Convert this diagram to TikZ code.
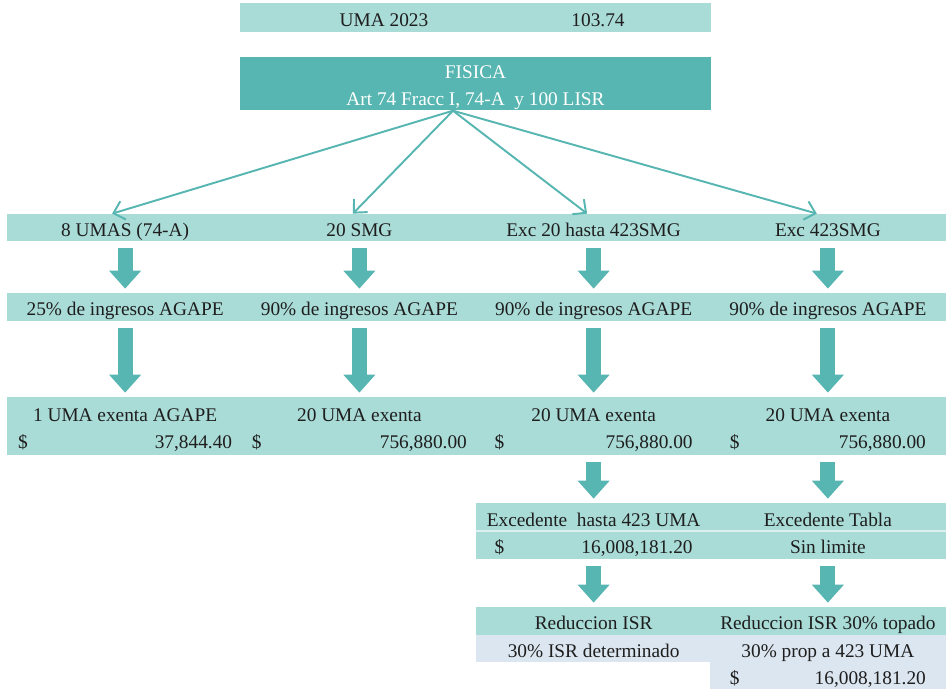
\documentclass[tikz,border=0pt]{standalone}
\usepackage{fontspec}
\setmainfont{Liberation Serif}
\usepackage{tikz}
\usepackage{xcolor}
\usetikzlibrary{arrows.meta,positioning,calc}

\definecolor{tealLight}{HTML}{A9DBD7}
\definecolor{tealDark}{HTML}{57B6B1}
\definecolor{greyBlue}{HTML}{DCE6F0}
\definecolor{inkText}{HTML}{1E1E1E}

% amount line: dollar sign left, figure right
\newcommand{\monto}[2]{\makebox[#1]{\$\hfill #2}}
% struts for two line cells
\newcommand{\topline}{\rule{0pt}{0.44cm}}
\newcommand{\lowline}{\rule[-0.09cm]{0pt}{0.09cm}}

\begin{document}
\begin{tikzpicture}[x=0.02cm, y=-0.02cm,
    cell/.style={fill=tealLight, inner sep=0pt, minimum width=4.72cm, minimum height=0.54cm,
                 align=center, text=inkText, font=\fontsize{11}{15.5}\selectfont,
                 text height=0.36cm, text depth=0cm},
    tallcell/.style={cell, minimum height=1.16cm, text height=, text depth=},
    greycell/.style={cell, fill=greyBlue, minimum height=0.55cm},
    headcell/.style={tallcell, fill=tealDark, text=white, minimum width=9.42cm, minimum height=1.06cm},
    plaintext/.style={text=inkText, font=\fontsize{11}{15.5}\selectfont, text height=0.36cm, text depth=0cm},
    thinarrow/.style={draw=tealDark, line width=1.1pt, -{Straight Barb[length=0.2cm, width=0.38cm]}},
    blockarrow/.style={draw=tealDark, line width=0.3cm, -{Triangle[length=0.36cm, width=0.62cm]},
                       shorten <=0.14cm, shorten >=0.08cm}]
    \useasboundingbox (0,0) rectangle (947,689);

    % UMA
    \node[cell, minimum width=9.42cm, minimum height=0.58cm] (uma) at (475.5,17.5) {};
    \node[plaintext] (umalbl) at (384,17.5) {UMA 2023};
    \node[plaintext] (umaval) at (598,17.5) {103.74};

    % Persona fisica
    \node[headcell] (fisica) at (475.5,83.5) {\topline FISICA\\Art 74 Fracc I, 74-A\ \ y 100 LISR\lowline};

    % Row 1
    \node[cell] (r1a) at (125.125,227.5) {8 UMAS (74-A)};
    \node[cell] (r1b) at (359.375,227.5) {20 SMG};
    \node[cell] (r1c) at (593.625,227.5) {Exc 20 hasta 423SMG};
    \node[cell] (r1d) at (827.875,227.5) {Exc 423SMG};

    \draw[thinarrow] ([xshift=-0.45cm]fisica.south) -- ([xshift=-0.26cm]r1a.north);
    \draw[thinarrow] ([xshift=-0.45cm]fisica.south) -- ([xshift=-0.13cm]r1b.north);
    \draw[thinarrow] ([xshift=-0.45cm]fisica.south) -- ([xshift=-0.13cm]r1c.north);
    \draw[thinarrow] ([xshift=-0.45cm]fisica.south) -- ([xshift=-0.22cm]r1d.north);

    % Row 2
    \node[cell, minimum height=0.56cm] (r2a) at (125.125,307) {25\% de ingresos AGAPE};
    \node[cell, minimum height=0.56cm] (r2b) at (359.375,307) {90\% de ingresos AGAPE};
    \node[cell, minimum height=0.56cm] (r2c) at (593.625,307) {90\% de ingresos AGAPE};
    \node[cell, minimum height=0.56cm] (r2d) at (827.875,307) {90\% de ingresos AGAPE};

    % Row 3
    \node[tallcell] (r3a) at (125.125,426) {\topline 1 UMA exenta AGAPE\\\monto{4.28cm}{37,844.40}\lowline};
    \node[tallcell] (r3b) at (359.375,426) {\topline 20 UMA exenta\\\monto{4.3cm}{756,880.00}\lowline};
    \node[tallcell] (r3c) at (593.625,426) {\topline 20 UMA exenta\\\monto{3.96cm}{756,880.00}\lowline};
    \node[tallcell] (r3d) at (827.875,426) {\topline 20 UMA exenta\\\monto{3.92cm}{756,880.00}\lowline};

    \foreach \c in {a,b,c,d} {
        \draw[blockarrow] (r1\c.south) -- (r2\c.north);
        \draw[blockarrow] (r2\c.south) -- (r3\c.north);
    }

    % Excedentes
    \node[tallcell, minimum height=1.12cm] (r4c) at (593.625,531) {\topline Excedente\ \ hasta 423 UMA\\\monto{3.96cm}{16,008,181.20}\lowline};
    \node[tallcell, minimum height=1.12cm] (r4d) at (827.875,531) {\topline Excedente Tabla\\Sin limite\lowline};
    \draw[white, opacity=0.6, line width=0.6pt] (r4c.west) -- (r4d.east);

    % Reduccion
    \node[cell, minimum height=0.55cm] (r5c) at (593.625,620.75) {Reduccion ISR};
    \node[cell, minimum height=0.55cm] (r5d) at (827.875,620.75) {Reduccion ISR 30\% topado};
    \node[greycell] (r6c) at (593.625,648.25) {30\% ISR determinado};
    \node[greycell] (r6d) at (827.875,648.25) {30\% prop a 423 UMA};
    \node[greycell, minimum height=0.54cm] (r7d) at (827.875,675.5) {\monto{3.92cm}{16,008,181.20}};

    \foreach \c in {c,d} {
        \draw[blockarrow] (r3\c.south) -- (r4\c.north);
        \draw[blockarrow] (r4\c.south) -- (r5\c.north);
    }
\end{tikzpicture}
\end{document}
